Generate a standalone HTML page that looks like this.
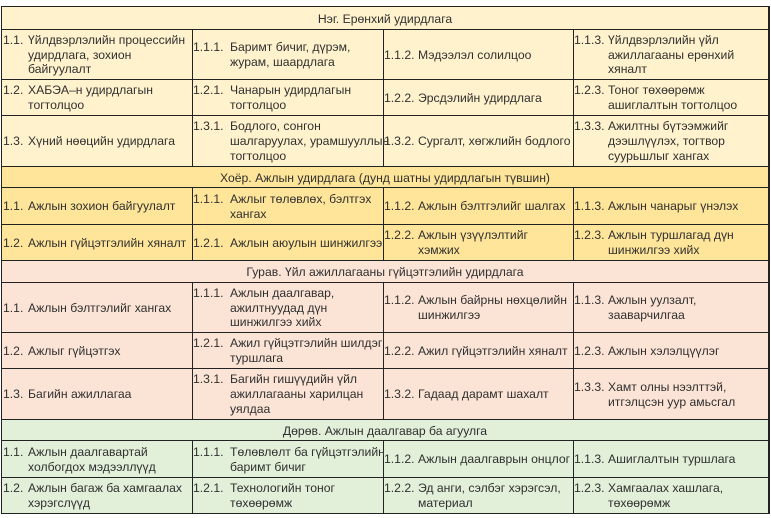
<!DOCTYPE html>
<html><head><meta charset="utf-8">
<style>
*{margin:0;padding:0;box-sizing:border-box}
html,body{width:771px;height:518px;background:#fff;overflow:hidden}
body{position:relative;font-family:"Liberation Sans","DejaVu Sans",sans-serif;font-size:12.2px;color:#303030}
.bg{position:absolute;left:1px;width:768px}
.h{position:absolute;left:1px;width:768px;height:1px;background:#222}
.v{position:absolute;top:6px;height:508px;width:1px;background:#222}
.row{position:absolute;left:0;width:771px}
.c{position:absolute;top:0;bottom:0;display:flex;flex-direction:column;justify-content:center;padding-top:1px}
.l{position:relative;height:14.8px;line-height:14.8px;white-space:nowrap}
.n{position:absolute;top:0}
.hd{position:absolute;left:1px;width:768px;display:flex;align-items:center;justify-content:center;white-space:nowrap;padding-top:1px}
.c3 .l{padding-left:34px}
.c3 .l.f{padding-left:0}
.c3 .l.f span.t{padding-left:34px}
</style></head><body>
<!-- backgrounds -->
<div class="bg" style="top:6px;height:160px;background:#fff2cc"></div>
<div class="bg" style="top:166px;height:94px;background:#ffe599"></div>
<div class="bg" style="top:260px;height:159px;background:#fbe4d5"></div>
<div class="bg" style="top:419px;height:95px;background:#e2efd9"></div>

<!-- horizontal lines -->
<div class="h" style="top:6px"></div>
<div class="h" style="top:29px"></div>
<div class="h" style="top:79px"></div>
<div class="h" style="top:115px"></div>
<div class="h" style="top:166px"></div>
<div class="h" style="top:187px"></div>
<div class="h" style="top:224px"></div>
<div class="h" style="top:260px"></div>
<div class="h" style="top:282px"></div>
<div class="h" style="top:332px"></div>
<div class="h" style="top:368px"></div>
<div class="h" style="top:419px"></div>
<div class="h" style="top:440px"></div>
<div class="h" style="top:477px"></div>
<div class="h" style="top:513px"></div>

<!-- vertical lines -->
<div class="v" style="left:1px"></div>
<div class="v" style="left:768px;width:2px"></div>
<div class="v" style="left:192px;top:29px;height:137px"></div>
<div class="v" style="left:383px;top:29px;height:137px"></div>
<div class="v" style="left:573px;top:29px;height:137px"></div>
<div class="v" style="left:192px;top:187px;height:73px"></div>
<div class="v" style="left:383px;top:187px;height:73px"></div>
<div class="v" style="left:573px;top:187px;height:73px"></div>
<div class="v" style="left:192px;top:282px;height:137px"></div>
<div class="v" style="left:383px;top:282px;height:137px"></div>
<div class="v" style="left:573px;top:282px;height:137px"></div>
<div class="v" style="left:192px;top:440px;height:73px"></div>
<div class="v" style="left:383px;top:440px;height:73px"></div>
<div class="v" style="left:573px;top:440px;height:73px"></div>

<!-- Section 1 -->
<div class="hd" style="top:7px;height:22px">Нэг. Ерөнхий удирдлага</div>

<div class="row" style="top:30px;height:49px">
 <div class="c" style="left:3px"><div class="l"><span class="n" style="left:0">1.1.</span><span style="padding-left:25px">Үйлдвэрлэлийн процессийн</span></div><div class="l" style="padding-left:25px">удирдлага, зохион</div><div class="l" style="padding-left:25px">байгуулалт</div></div>
 <div class="c" style="left:193px"><div class="l"><span class="n">1.1.1.</span><span style="padding-left:37px">Баримт бичиг, дүрэм,</span></div><div class="l" style="padding-left:37px">журам, шаардлага</div></div>
 <div class="c c3" style="left:384px"><div class="l f"><span class="n">1.1.2.</span><span class="t">Мэдээлэл солилцоо</span></div></div>
 <div class="c c3" style="left:574px"><div class="l f"><span class="n">1.1.3.</span><span class="t">Үйлдвэрлэлийн үйл</span></div><div class="l">ажиллагааны ерөнхий</div><div class="l">хяналт</div></div>
</div>

<div class="row" style="top:80px;height:35px">
 <div class="c" style="left:3px"><div class="l"><span class="n">1.2.</span><span style="padding-left:25px">ХАБЭА–н удирдлагын</span></div><div class="l" style="padding-left:25px">тогтолцоо</div></div>
 <div class="c" style="left:193px"><div class="l"><span class="n">1.2.1.</span><span style="padding-left:37px">Чанарын удирдлагын</span></div><div class="l" style="padding-left:37px">тогтолцоо</div></div>
 <div class="c c3" style="left:384px"><div class="l f"><span class="n">1.2.2.</span><span class="t">Эрсдэлийн удирдлага</span></div></div>
 <div class="c c3" style="left:574px"><div class="l f"><span class="n">1.2.3.</span><span class="t">Тоног төхөөрөмж</span></div><div class="l">ашиглалтын тогтолцоо</div></div>
</div>

<div class="row" style="top:116px;height:50px">
 <div class="c" style="left:3px"><div class="l"><span class="n">1.3.</span><span style="padding-left:25px">Хүний нөөцийн удирдлага</span></div></div>
 <div class="c" style="left:193px"><div class="l"><span class="n">1.3.1.</span><span style="padding-left:37px">Бодлого, сонгон</span></div><div class="l" style="padding-left:37px">шалгаруулах, урамшууллын</div><div class="l" style="padding-left:37px">тогтолцоо</div></div>
 <div class="c c3" style="left:384px"><div class="l f"><span class="n">1.3.2.</span><span class="t">Сургалт, хөгжлийн бодлого</span></div></div>
 <div class="c c3" style="left:574px"><div class="l f"><span class="n">1.3.3.</span><span class="t">Ажилтны бүтээмжийг</span></div><div class="l">дээшлүүлэх, тогтвор</div><div class="l">суурьшлыг хангах</div></div>
</div>

<!-- Section 2 -->
<div class="hd" style="top:167px;height:20px">Хоёр. Ажлын удирдлага (дунд шатны удирдлагын түвшин)</div>

<div class="row" style="top:188px;height:36px">
 <div class="c" style="left:3px"><div class="l"><span class="n">1.1.</span><span style="padding-left:25px">Ажлын зохион байгуулалт</span></div></div>
 <div class="c" style="left:193px"><div class="l"><span class="n">1.1.1.</span><span style="padding-left:37px">Ажлыг төлөвлөх, бэлтгэх</span></div><div class="l" style="padding-left:37px">хангах</div></div>
 <div class="c c3" style="left:384px"><div class="l f"><span class="n">1.1.2.</span><span class="t">Ажлын бэлтгэлийг шалгах</span></div></div>
 <div class="c c3" style="left:574px"><div class="l f"><span class="n">1.1.3.</span><span class="t">Ажлын чанарыг үнэлэх</span></div></div>
</div>

<div class="row" style="top:225px;height:35px">
 <div class="c" style="left:3px"><div class="l"><span class="n">1.2.</span><span style="padding-left:25px">Ажлын гүйцэтгэлийн хяналт</span></div></div>
 <div class="c" style="left:193px"><div class="l"><span class="n">1.2.1.</span><span style="padding-left:37px">Ажлын аюулын шинжилгээ</span></div></div>
 <div class="c c3" style="left:384px"><div class="l f"><span class="n">1.2.2.</span><span class="t">Ажлын үзүүлэлтийг</span></div><div class="l">хэмжих</div></div>
 <div class="c c3" style="left:574px"><div class="l f"><span class="n">1.2.3.</span><span class="t">Ажлын туршлагад дүн</span></div><div class="l">шинжилгээ хийх</div></div>
</div>

<!-- Section 3 -->
<div class="hd" style="top:261px;height:21px">Гурав. Үйл ажиллагааны гүйцэтгэлийн удирдлага</div>

<div class="row" style="top:283px;height:49px">
 <div class="c" style="left:3px"><div class="l"><span class="n">1.1.</span><span style="padding-left:25px">Ажлын бэлтгэлийг хангах</span></div></div>
 <div class="c" style="left:193px"><div class="l"><span class="n">1.1.1.</span><span style="padding-left:37px">Ажлын даалгавар,</span></div><div class="l" style="padding-left:37px">ажилтнуудад дүн</div><div class="l" style="padding-left:37px">шинжилгээ хийх</div></div>
 <div class="c c3" style="left:384px"><div class="l f"><span class="n">1.1.2.</span><span class="t">Ажлын байрны нөхцөлийн</span></div><div class="l">шинжилгээ</div></div>
 <div class="c c3" style="left:574px"><div class="l f"><span class="n">1.1.3.</span><span class="t">Ажлын уулзалт,</span></div><div class="l">зааварчилгаа</div></div>
</div>

<div class="row" style="top:333px;height:35px">
 <div class="c" style="left:3px"><div class="l"><span class="n">1.2.</span><span style="padding-left:25px">Ажлыг гүйцэтгэх</span></div></div>
 <div class="c" style="left:193px"><div class="l"><span class="n">1.2.1.</span><span style="padding-left:37px">Ажил гүйцэтгэлийн шилдэг</span></div><div class="l" style="padding-left:37px">туршлага</div></div>
 <div class="c c3" style="left:384px"><div class="l f"><span class="n">1.2.2.</span><span class="t">Ажил гүйцэтгэлийн хяналт</span></div></div>
 <div class="c c3" style="left:574px"><div class="l f"><span class="n">1.2.3.</span><span class="t">Ажлын хэлэлцүүлэг</span></div></div>
</div>

<div class="row" style="top:369px;height:50px">
 <div class="c" style="left:3px"><div class="l"><span class="n">1.3.</span><span style="padding-left:25px">Багийн ажиллагаа</span></div></div>
 <div class="c" style="left:193px"><div class="l"><span class="n">1.3.1.</span><span style="padding-left:37px">Багийн гишүүдийн үйл</span></div><div class="l" style="padding-left:37px">ажиллагааны харилцан</div><div class="l" style="padding-left:37px">уялдаа</div></div>
 <div class="c c3" style="left:384px"><div class="l f"><span class="n">1.3.2.</span><span class="t">Гадаад дарамт шахалт</span></div></div>
 <div class="c c3" style="left:574px"><div class="l f"><span class="n">1.3.3.</span><span class="t">Хамт олны нээлттэй,</span></div><div class="l">итгэлцсэн уур амьсгал</div></div>
</div>

<!-- Section 4 -->
<div class="hd" style="top:420px;height:20px">Дөрөв. Ажлын даалгавар ба агуулга</div>

<div class="row" style="top:441px;height:36px">
 <div class="c" style="left:3px"><div class="l"><span class="n">1.1.</span><span style="padding-left:25px">Ажлын даалгавартай</span></div><div class="l" style="padding-left:25px">холбогдох мэдээллүүд</div></div>
 <div class="c" style="left:193px"><div class="l"><span class="n">1.1.1.</span><span style="padding-left:37px">Төлөвлөлт ба гүйцэтгэлийн</span></div><div class="l" style="padding-left:37px">баримт бичиг</div></div>
 <div class="c c3" style="left:384px"><div class="l f"><span class="n">1.1.2.</span><span class="t">Ажлын даалгаврын онцлог</span></div></div>
 <div class="c c3" style="left:574px"><div class="l f"><span class="n">1.1.3.</span><span class="t">Ашиглалтын туршлага</span></div></div>
</div>

<div class="row" style="top:478px;height:35px">
 <div class="c" style="left:3px"><div class="l"><span class="n">1.2.</span><span style="padding-left:25px">Ажлын багаж ба хамгаалах</span></div><div class="l" style="padding-left:25px">хэрэгслүүд</div></div>
 <div class="c" style="left:193px"><div class="l"><span class="n">1.2.1.</span><span style="padding-left:37px">Технологийн тоног</span></div><div class="l" style="padding-left:37px">төхөөрөмж</div></div>
 <div class="c c3" style="left:384px"><div class="l f"><span class="n">1.2.2.</span><span class="t">Эд анги, сэлбэг хэрэгсэл,</span></div><div class="l">материал</div></div>
 <div class="c c3" style="left:574px"><div class="l f"><span class="n">1.2.3.</span><span class="t">Хамгаалах хашлага,</span></div><div class="l">төхөөрөмж</div></div>
</div>
</body></html>
